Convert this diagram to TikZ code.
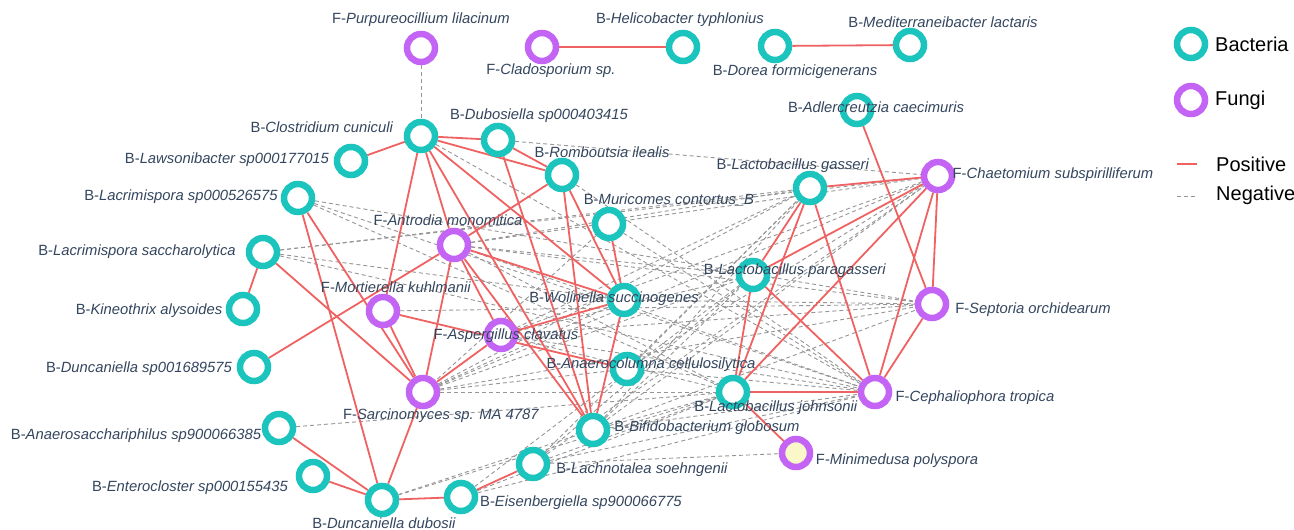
\documentclass[tikz,border=0pt]{standalone}
\usepackage{fontspec}
\setmainfont{Liberation Sans}
\usetikzlibrary{backgrounds}
\definecolor{teal}{RGB}{28,196,190}
\definecolor{purp}{RGB}{196,100,245}
\definecolor{lblc}{RGB}{52,70,94}
\definecolor{posc}{RGB}{240,98,98}
\definecolor{negc}{RGB}{150,150,150}
\definecolor{minif}{RGB}{250,248,200}
\newcommand{\nm}[2]{#1-\textit{#2}}
\begin{document}
\begin{tikzpicture}[x=1pt,y=-1pt,
  bact/.style={circle,draw=teal,line width=6.5pt,minimum size=28pt,inner sep=0pt,fill=white},
  fung/.style={circle,draw=purp,line width=6.5pt,minimum size=28pt,inner sep=0pt,fill=white},
  lbl/.style={font=\fontsize{14.8}{16}\selectfont,text=lblc,inner sep=0pt},
  leg/.style={font=\fontsize{20}{22}\selectfont,text=black,inner sep=0pt,anchor=west},
  posl/.style={draw=posc,line width=1.8pt},
  negl/.style={draw=negc,line width=0.9pt,dash pattern=on 4pt off 3pt}]
\begin{scope}[on background layer]
\fill[white] (0,0) rectangle (1294,530);
\end{scope}
\useasboundingbox (0,0) rectangle (1294,530);
% nodes
\node[fung] (PurL) at (421,48) {};
\node[fung] (Clad) at (542,47) {};
\node[bact] (Heli) at (683,47) {};
\node[bact] (Dorea) at (775,46) {};
\node[bact] (Medi) at (910,45) {};
\node[bact] (Adler) at (857,110) {};
\node[bact] (Clos) at (421,136) {};
\node[bact] (Dubo) at (498,140) {};
\node[bact] (Romb) at (562,175) {};
\node[bact] (Laws) at (351,161) {};
\node[bact] (LacSp) at (298,198) {};
\node[bact] (Muri) at (609,224) {};
\node[bact] (LGass) at (810,188) {};
\node[fung] (Chaet) at (938,176) {};
\node[fung] (Antro) at (454,245) {};
\node[bact] (LacSac) at (263,252) {};
\node[bact] (LPara) at (753,275) {};
\node[bact] (Kine) at (243,309) {};
\node[fung] (Mort) at (383,311) {};
\node[bact] (Woli) at (624,300) {};
\node[fung] (Sept) at (932,304) {};
\node[fung] (Asp) at (501,335) {};
\node[bact] (Dunc1) at (254,367) {};
\node[bact] (Anaeroc) at (627,369) {};
\node[fung] (Sarc) at (423,392) {};
\node[bact] (LJohn) at (733,392) {};
\node[fung] (Ceph) at (875,392) {};
\node[bact] (Anaeros) at (279,428) {};
\node[bact] (BBifi) at (593,430) {};
\node[fung,fill=minif] (Mini) at (796,453) {};
\node[bact] (Lachno) at (533,464) {};
\node[bact] (Entero) at (313,476) {};
\node[bact] (Eisen) at (461,497) {};
\node[bact] (DuncD) at (382,500) {};
% edges
\begin{scope}[on background layer]
\foreach \a/\b in {PurL/Clos,Dubo/Chaet,Clos/Ceph,Romb/Ceph,
  LacSac/LGass,LacSac/Chaet,LacSac/Woli,LacSac/Ceph,
  LacSp/LJohn,LacSp/Ceph,LacSp/Sept,
  Antro/LGass,Antro/Chaet,Antro/LPara,Antro/Sept,Antro/Ceph,Antro/LJohn,
  Mort/Sept,Muri/Ceph,Muri/Sarc,Woli/Sept,
  Asp/LGass,Asp/Chaet,Asp/LPara,Asp/Sept,Asp/LJohn,Asp/Ceph,
  Sarc/LGass,Sarc/Chaet,Sarc/LPara,Sarc/Sept,Sarc/LJohn,Sarc/Ceph,Sarc/Woli,Sarc/Anaeroc,
  Anaeroc/Chaet,Anaeroc/Ceph,Anaeroc/LGass,
  BBifi/LPara,BBifi/Sept,BBifi/LJohn,BBifi/Ceph,BBifi/Chaet,BBifi/LGass,
  Lachno/LGass,Lachno/Chaet,Lachno/LJohn,Lachno/Ceph,Lachno/Mini,Lachno/LPara,
  Eisen/LJohn,Eisen/Ceph,Eisen/LPara,DuncD/LJohn,DuncD/BBifi,Anaeros/LJohn}
  \draw[negl] (\a) -- (\b);
\foreach \a/\b in {Clad/Heli,Dorea/Medi,Clos/Laws,Clos/Dubo,Clos/Romb,Dubo/Romb,
  Clos/Mort,Clos/Antro,Clos/BBifi,Clos/Woli,Dubo/BBifi,Romb/BBifi,Romb/Woli,Romb/Antro,
  Antro/Dunc1,Muri/Woli,LacSac/Kine,LacSp/DuncD,LacSp/Sarc,LacSac/Sarc,Mort/Sarc,
  Mort/Anaeroc,Antro/Sarc,Antro/Asp,Antro/Woli,Antro/BBifi,Asp/Woli,Sarc/Asp,Sarc/DuncD,
  Woli/BBifi,Anaeros/DuncD,Entero/DuncD,DuncD/Eisen,Eisen/Lachno,
  LGass/Chaet,LGass/LPara,LGass/LJohn,LGass/Ceph,Chaet/LPara,Chaet/LJohn,Chaet/Ceph,
  Chaet/Sept,Adler/Sept,Sept/Ceph,Ceph/LJohn,LPara/Ceph,LPara/LJohn,LJohn/Mini}
  \draw[posl] (\a) -- (\b);
\end{scope}
% labels
\node[lbl] (PurL-l) at (421,20) {\nm{F}{Purpureocillium lilacinum}};
\node[lbl] (Clad-l) at (551,71) {\nm{F}{Cladosporium sp.}};
\node[lbl] (Heli-l) at (680,20) {\nm{B}{Helicobacter typhlonius}};
\node[lbl] (Dorea-l) at (795,72) {\nm{B}{Dorea formicigenerans}};
\node[lbl] (Medi-l) at (943,22) {\nm{B}{Mediterraneibacter lactaris}};
\node[lbl] (Adler-l) at (876,107) {\nm{B}{Adlercreutzia caecimuris}};
\node[lbl] (Clos-l) at (322,127) {\nm{B}{Clostridium cuniculi}};
\node[lbl] (Dubo-l) at (539,116) {\nm{B}{Dubosiella sp000403415}};
\node[lbl] (Romb-l) at (602,152) {\nm{B}{Romboutsia ilealis}};
\node[lbl] (Laws-l) at (227,160) {\nm{B}{Lawsonibacter sp000177015}};
\node[lbl] (LacSp-l) at (181,197) {\nm{B}{Lacrimispora sp000526575}};
\node[lbl] (Muri-l) at (669,200) {\nm{B}{Muricomes contortus\_B}};
\node[lbl] (LGass-l) at (793,166) {\nm{B}{Lactobacillus gasseri}};
\node[lbl] (Chaet-l) at (1053,175) {\nm{F}{Chaetomium subspirilliferum}};
\node[lbl] (Antro-l) at (448,220) {\nm{F}{Antrodia monomitica}};
\node[lbl] (LacSac-l) at (137,252) {\nm{B}{Lacrimispora saccharolytica}};
\node[lbl] (LPara-l) at (795,271) {\nm{B}{Lactobacillus paragasseri}};
\node[lbl] (Kine-l) at (149,311) {\nm{B}{Kineothrix alysoides}};
\node[lbl] (Mort-l) at (396,287) {\nm{F}{Mortierella kuhlmanii}};
\node[lbl] (Woli-l) at (614,299) {\nm{B}{Wolinella succinogenes}};
\node[lbl] (Sept-l) at (1033,310) {\nm{F}{Septoria orchidearum}};
\node[lbl] (Asp-l) at (506,336) {\nm{F}{Aspergillus clavatus}};
\node[lbl] (Dunc1-l) at (139,369) {\nm{B}{Duncaniella sp001689575}};
\node[lbl] (Anaeroc-l) at (651,365) {\nm{B}{Anaerocolumna cellulosilytica}};
\node[lbl] (Sarc-l) at (441,416) {\nm{F}{Sarcinomyces sp. MA 4787}};
\node[lbl] (LJohn-l) at (776,408) {\nm{B}{Lactobacillus johnsonii}};
\node[lbl] (Ceph-l) at (975,398) {\nm{F}{Cephaliophora tropica}};
\node[lbl] (Anaeros-l) at (136,436) {\nm{B}{Anaerosacchariphilus sp900066385}};
\node[lbl] (BBifi-l) at (707,428) {\nm{B}{Bifidobacterium globosum}};
\node[lbl] (Mini-l) at (897,461) {\nm{F}{Minimedusa polyspora}};
\node[lbl] (Lachno-l) at (642,470) {\nm{B}{Lachnotalea soehngenii}};
\node[lbl] (Entero-l) at (190,488) {\nm{B}{Enterocloster sp000155435}};
\node[lbl] (Eisen-l) at (581,503) {\nm{B}{Eisenbergiella sp900066775}};
\node[lbl] (DuncD-l) at (384,523) {\nm{B}{Duncaniella dubosii}};
% legend
\node[bact] (LegB) at (1191,44) {};
\node[leg] (LegBt) at (1215,44) {Bacteria};
\node[fung] (LegF) at (1191,100) {};
\node[leg] (LegFt) at (1215,100) {Fungi};
\coordinate (LegP1) at (1177,164); \coordinate (LegP2) at (1197,164);
\draw[posl,line width=1.3pt] (LegP1) -- (LegP2);
\node[leg] (LegPt) at (1216,164) {Positive};
\coordinate (LegN1) at (1177,196); \coordinate (LegN2) at (1197,196);
\draw[negl] (LegN1) -- (LegN2);
\node[leg] (LegNt) at (1216,195) {Negative};
\end{tikzpicture}
\end{document}
